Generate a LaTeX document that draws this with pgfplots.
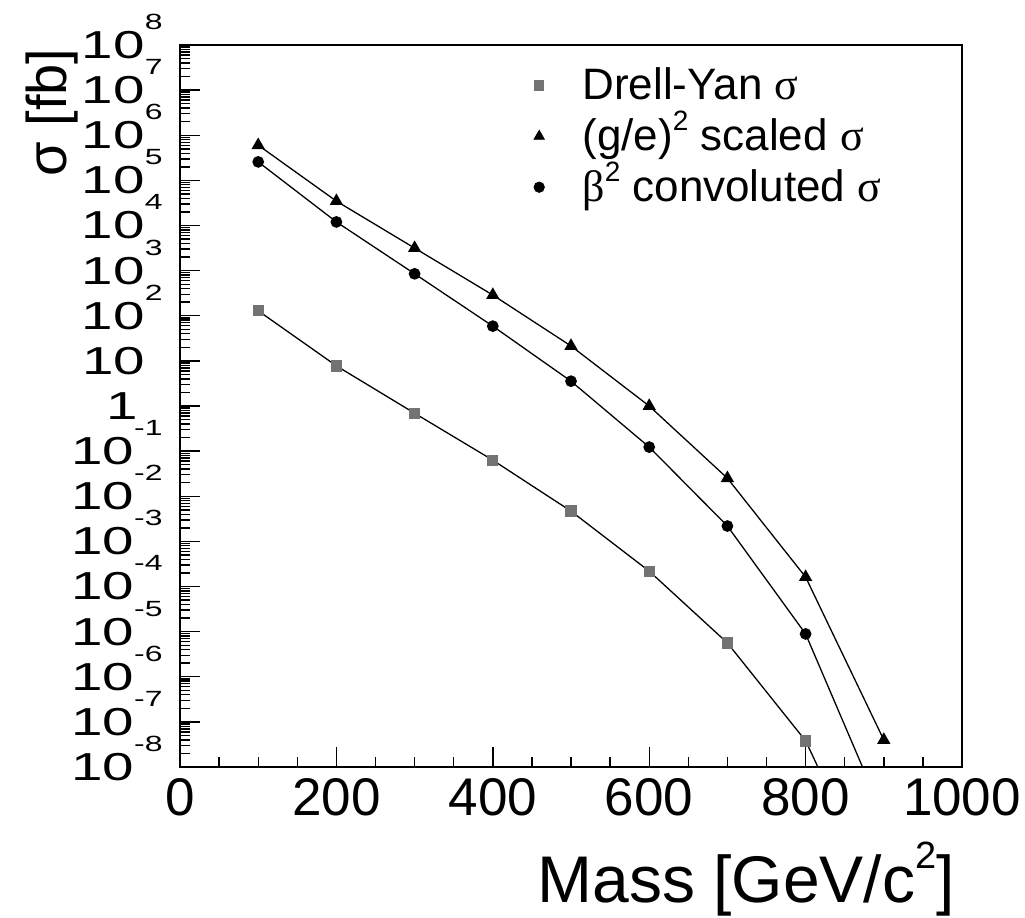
\documentclass[border=0pt]{standalone}
\usepackage{pgfplots}
\pgfplotsset{compat=1.18}
\usepackage{fontspec}
\setmainfont{Liberation Sans}
\newfontfamily\symf{Liberation Serif}

% ROOT-like decade labels: "10" with the exponent lifted high
\newcommand{\ylab}[1]{%
  \ifnum#1=0
    \scalebox{1.45}[1]{\fontsize{19.5}{19.5}\selectfont 1\kern8.6pt}%
  \else\ifnum#1=1
    \scalebox{1.45}[1]{\fontsize{19.5}{19.5}\selectfont 10\kern6pt}%
  \else
    \scalebox{1.45}[1]{\fontsize{19.5}{19.5}\selectfont 10\raisebox{14.5pt}[0pt][0pt]{\fontsize{11}{11}\selectfont #1}}%
  \fi\fi}
\newcommand{\sq}{\raisebox{10pt}[0pt][0pt]{\fontsize{14}{14}\selectfont 2}}

% minor ticks at 2..9 of every decade
\def\minorlist{1e-8}
\foreach \e in {-8,...,7}{\foreach \m in {2,...,9}{\xdef\minorlist{\minorlist,\m e\e}}}

\begin{document}
\begin{tikzpicture}
\begin{axis}[
    name=ax,
    width=391pt, height=361pt, scale only axis,
    xmin=0, xmax=1000,
    ymode=log, log basis y=10,
    ymin=1e-8, ymax=1e8,
    xtick={0,200,...,1000}, minor x tick num=3,
    ytickten={-8,-7,...,8},
    minor ytick/.expanded={\minorlist},
    yticklabel={\pgfmathtruncatemacro{\yexp}{round(\tick)}\ylab{\yexp}},
    tick align=inside, tick pos=left,
    major tick length=10pt, minor tick length=5pt,
    every tick/.style={black, line width=0.7pt},
    axis line style={line width=0.9pt},
    /pgf/number format/assume math mode=true,
    /pgf/number format/1000 sep={},
    xticklabel style={anchor=north, inner sep=0pt, yshift=-5.5pt,
        font=\fontsize{26.5}{26.5}\selectfont},
    yticklabel style={anchor=east, inner sep=0pt, xshift=-8.5pt},
    xlabel={Mass [GeV/c\raisebox{17pt}{\fontsize{19}{19}\selectfont 2}]},
    xlabel style={at={([xshift=-3.5pt,yshift=-67.5pt]axis description cs:1,0)},
        anchor=base east, inner sep=0pt, font=\fontsize{33}{33}\selectfont},
    ylabel={σ [fb]},
    ylabel style={at={([xshift=-56.5pt,yshift=-1.5pt]axis description cs:0,1)},
        anchor=base east, inner sep=0pt, font=\fontsize{28}{28}\selectfont},
    legend cell align=left,
    legend style={draw=none, fill=none, inner sep=0pt, outer sep=0pt,
        at={(axis description cs:0,1)}, anchor=north west,
        xshift=177pt, yshift=-11.5pt, row sep=8pt,
        font=\fontsize{22}{22}\selectfont,
        nodes={inner sep=0pt, inner xsep=19pt}},
]
\addlegendimage{only marks, mark=square*, mark size=2.3pt,
    mark options={fill=black!55, draw=black!55}}
\addlegendentry{Drell-Yan {\symf σ}}
\addlegendimage{only marks, mark=triangle*, mark size=3pt,
    mark options={fill=black, draw=black}}
\addlegendentry{(g/e)\sq\ scaled {\symf σ}}
\addlegendimage{only marks, mark=*, mark size=2.6pt,
    mark options={fill=black, draw=black}}
\addlegendentry{{\symf β}\sq\ convoluted {\symf σ}}

% Drell-Yan
\addplot[black, line width=0.65pt, mark=square*, mark size=2.5pt,
    mark options={fill=black!55, draw=black!55}, forget plot] coordinates {
    (100,129) (200,7.76) (300,0.692) (400,0.0631) (500,4.68e-3)
    (600,2.19e-4) (700,5.62e-6) (800,3.8e-8) (900,7.9e-12)
};
% (g/e)^2 scaled
\addplot[black, line width=0.65pt, mark=triangle*, mark size=3.2pt,
    mark options={fill=black, draw=black}, forget plot] coordinates {
    (100,6.03e5) (200,3.47e4) (300,3.16e3) (400,288) (500,21.4)
    (600,1.0) (700,0.0251) (800,1.62e-4) (900,3.98e-8)
};
% beta^2 convoluted
\addplot[black, line width=0.65pt, mark=*, mark size=2.6pt,
    mark options={fill=black, draw=black}, forget plot] coordinates {
    (100,2.57e5) (200,1.20e4) (300,851) (400,58.9) (500,3.55)
    (600,0.123) (700,2.19e-3) (800,8.9e-6) (900,7.9e-10)
};
\end{axis}
\pgfresetboundingbox
\path[use as bounding box] ([shift={(-90pt,-75pt)}]ax.south west)
    rectangle ([shift={(31.5pt,22.5pt)}]ax.north east);
\end{tikzpicture}
\end{document}
